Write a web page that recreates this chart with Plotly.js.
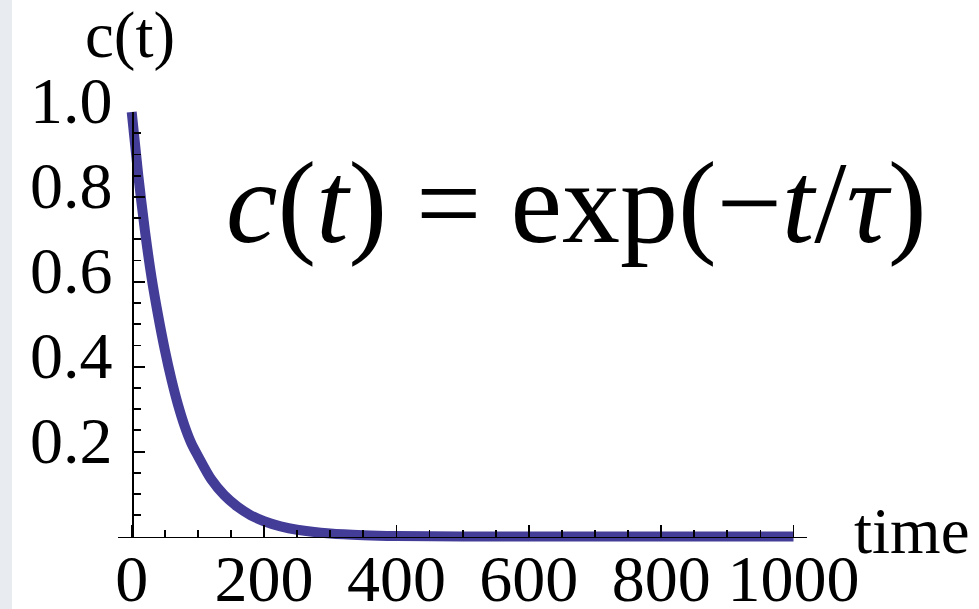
<!DOCTYPE html>
<html>
<head>
<meta charset="utf-8">
<script src="https://cdn.plot.ly/plotly-3.0.1.min.js"></script>
<style>html,body{margin:0;padding:0;background:#fff;}#chart{width:979px;height:609px;}</style>
</head>
<body>
<div id="chart"></div>
<script>
// values
const timeVals = [0, 10, 20, 30, 40, 50, 60, 70, 80, 90, 100, 120, 140, 160, 180, 200, 225, 250, 300, 350, 400, 500, 600, 700, 800, 900, 1000];
const cVals    = [1.0, 0.85, 0.72, 0.61, 0.52, 0.44, 0.37, 0.31, 0.26, 0.22, 0.19, 0.135, 0.097, 0.07, 0.05, 0.036, 0.024, 0.016, 0.007, 0.003, 0.001, 0.0, 0.0, 0.0, 0.0, 0.0, 0.0];
const yTickVals = [0.2, 0.4, 0.6, 0.8, 1.0];
const yTickText = ['0.2', '0.4', '0.6', '0.8', '1.0'];
const xTickVals = [0, 200, 400, 600, 800, 1000];
const xTickText = ['0', '200', '400', '600', '800', '1000'];
const yLabel = 'c(t)';
const xLabel = 'time';
const equation = '<i>c</i>(<i>t</i>) = exp(\u2212<i>t</i>/<i>\u03C4</i>)';

const serif = 'Liberation Serif, Times New Roman, serif';
const tickFont = {family: serif, size: 66, color: '#000'};

const traces = [
  {x: timeVals, y: cVals, type: 'scatter', mode: 'lines', xaxis: 'x', yaxis: 'y',
   line: {color: '#433d98', width: 10, shape: 'spline', smoothing: 0.8},
   hoverinfo: 'skip', showlegend: false},
  {x: [], y: [], type: 'scatter', mode: 'lines', xaxis: 'x', yaxis: 'y2',
   hoverinfo: 'skip', showlegend: false}
];

const layout = {
  width: 979, height: 609,
  margin: {l: 118, r: 172, t: 100, b: 59},
  paper_bgcolor: '#ffffff',
  plot_bgcolor: 'rgba(0,0,0,0)',
  showlegend: false,
  xaxis: {
    range: [-20.7, 1020.4], anchor: 'free', position: 0.03, side: 'bottom',
    showgrid: false, zeroline: false, showline: true, linecolor: '#000', linewidth: 1.8,
    ticks: 'inside', ticklen: 12, tickwidth: 1.8, tickcolor: '#000',
    tickmode: 'array', tickvals: xTickVals, ticktext: xTickText,
    tickfont: tickFont, ticklabelstandoff: -17,
    minor: {tickmode: 'linear', tick0: 0, dtick: 50, ticks: 'inside', ticklen: 7, tickwidth: 1.8, tickcolor: '#000', showgrid: false}
  },
  yaxis: {
    range: [-0.0318, 1.0283], visible: false, fixedrange: true
  },
  yaxis2: {
    domain: [0.03, 0.97333], range: [0, 1], anchor: 'free', position: 0.0199, side: 'left',
    showgrid: false, zeroline: false, showline: true, linecolor: '#000', linewidth: 1.8,
    ticks: 'inside', ticklen: 11, tickwidth: 1.8, tickcolor: '#000',
    tickmode: 'array', tickvals: yTickVals, ticktext: yTickText,
    tickfont: tickFont, ticklabelstandoff: 6, ticklabelshift: -12,
    minor: {tickmode: 'linear', tick0: 0, dtick: 0.05, ticks: 'inside', ticklen: 7, tickwidth: 1.8, tickcolor: '#000', showgrid: false}
  },
  shapes: [
    {type: 'rect', xref: 'paper', yref: 'paper', x0: -0.1713, x1: -0.1538, y0: -0.2, y1: 1.3,
     fillcolor: '#e8ecf0', line: {width: 0}, layer: 'below'}
  ],
  annotations: [
    {text: yLabel, xref: 'paper', yref: 'paper', x: 0.0181, y: 1.06, xanchor: 'center', yanchor: 'bottom',
     showarrow: false, font: {family: serif, size: 65, color: '#000'}},
    {text: xLabel, xref: 'paper', yref: 'paper', x: 1.0653, y: 0.042, xanchor: 'left', yanchor: 'middle',
     showarrow: false, font: {family: serif, size: 65, color: '#000'}},
    {text: equation, xref: 'paper', yref: 'paper', x: 0.6654, y: 0.772, xanchor: 'center', yanchor: 'middle',
     showarrow: false, font: {family: serif, size: 116, color: '#000'}}
  ]
};

Plotly.newPlot('chart', traces, layout, {staticPlot: true, displayModeBar: false});
</script>
</body>
</html>
